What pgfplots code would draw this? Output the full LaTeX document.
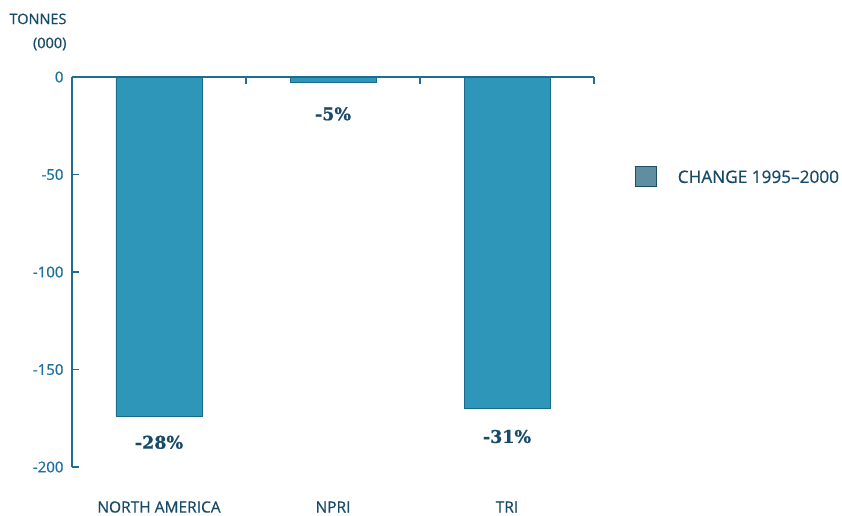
\documentclass[border=0pt]{standalone}
\usepackage{pgfplots}
\pgfplotsset{compat=1.18}
\usepackage{fontspec}
\setmainfont{Open Sans}[FakeBold=0.6]
\newfontfamily\pctfont{DejaVu Serif}[BoldFeatures={FakeBold=0.8}]
\definecolor{barfill}{HTML}{2E96B9}
\definecolor{baredge}{HTML}{1B6A8C}
\definecolor{axiscol}{HTML}{1E6E93}
\definecolor{ticklab}{HTML}{1E6F9B}
\definecolor{darktxt}{HTML}{174A68}
\definecolor{legfill}{HTML}{5F8EA0}
\definecolor{legedge}{HTML}{1D4E66}
\begin{document}
\begin{tikzpicture}[x=1pt,y=1pt]
\useasboundingbox (-72,-48) rectangle (770,467);
\begin{axis}[
  at={(0,0)}, anchor=south west,
  scale only axis, width=522pt, height=390pt,
  xmin=0, xmax=3, ymin=-200, ymax=0,
  axis x line*=top, axis y line*=left,
  axis line style={axiscol, line width=1.1pt, -},
  xtick={1,2,3}, xticklabels={},
  ytick={-200,-150,-100,-50,0},
  yticklabels={-200,-150,-100,-50,0},
  tick style={axiscol, line width=1.1pt},
  major tick length=7pt,
  tick align=inside,
  yticklabel style={font=\fontsize{15}{18}\selectfont, text=ticklab, xshift=-5pt},
  clip=false,
  legend style={at={(axis description cs:1.072,0.745)}, anchor=west, draw=none, fill=none,
    font=\fontsize{17.2}{18}\selectfont, text=darktxt, legend cell align=left},
]
\addplot[ybar, bar width=86pt, fill=barfill, draw=baredge, line width=0.8pt, forget plot]
  coordinates {(0.5,-174) (1.5,-3) (2.5,-170)};
\addlegendimage{legend image code/.code={\draw[fill=legfill, draw=legedge, line width=1pt] (2pt,-9pt) rectangle (23pt,11pt);}}
\addlegendentry{\hspace{19pt}CHANGE 1995--2000}
\node[font=\pctfont\bfseries\fontsize{17.5}{18}\selectfont, text=darktxt] at (axis cs:0.5,-174) [yshift=-26pt] {-28\%};
\node[font=\pctfont\bfseries\fontsize{17.5}{18}\selectfont, text=darktxt] at (axis cs:1.5,-3) [yshift=-31pt] {-5\%};
\node[font=\pctfont\bfseries\fontsize{17.5}{18}\selectfont, text=darktxt] at (axis cs:2.5,-170) [yshift=-28pt] {-31\%};
\node[font=\fontsize{15.5}{18}\selectfont, text=darktxt] at (axis cs:0.5,-200) [yshift=-40pt] {NORTH AMERICA};
\node[font=\fontsize{15.5}{18}\selectfont, text=darktxt] at (axis cs:1.5,-200) [yshift=-40pt] {NPRI};
\node[font=\fontsize{15.5}{18}\selectfont, text=darktxt] at (axis cs:2.5,-200) [yshift=-40pt] {TRI};
\end{axis}
\node[font=\fontsize{14.5}{24}\selectfont, text=darktxt, align=right, anchor=east] at (-2,435) {TONNES\\(000)};
\end{tikzpicture}
\end{document}
